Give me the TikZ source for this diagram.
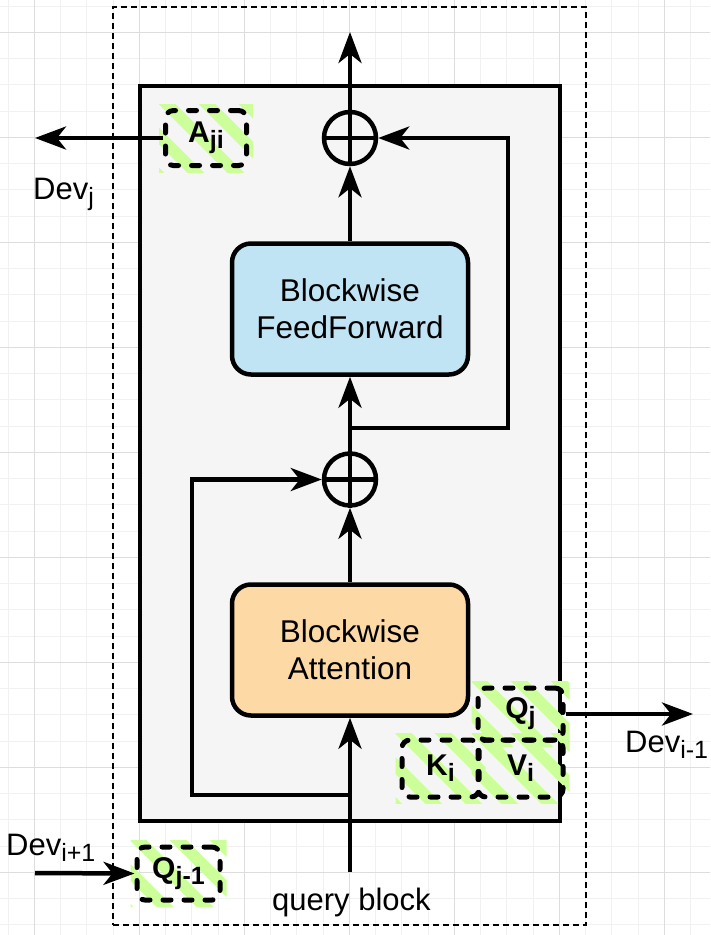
\documentclass[tikz,border=0pt]{standalone}
\usepackage{fontspec}
\setmainfont{Liberation Sans}
\usepackage{xcolor}
\usepackage{tikz}
\usetikzlibrary{arrows.meta,calc,positioning}
\definecolor{gridminor}{RGB}{241,241,241}
\definecolor{gridmajor}{RGB}{221,221,221}
\definecolor{innergray}{RGB}{245,245,245}
\definecolor{ffnblue}{RGB}{193,228,245}
\definecolor{attnorange}{RGB}{253,217,166}
\definecolor{hatchgreen}{RGB}{204,255,153}
\pgfdeclarelayer{grid}
\pgfdeclarelayer{hatch}
\pgfsetlayers{grid,hatch,main}
\newcommand{\dsub}[1]{\raisebox{-6pt}{\fontsize{25}{25}\selectfont #1}}
\tikzset{
	>={Stealth[length=31pt,width=23pt,inset=9pt]},
	% Specifications for style of nodes:
	frame/.style = {rectangle, draw=black, line width=1.8pt,
	dash pattern=on 6pt off 4pt},
	inner/.style = {rectangle, draw=black, fill=innergray, line width=4.5pt},
	blk/.style = {rectangle, rounded corners=19pt,
	minimum width=236pt, minimum height=131pt,
	draw=black, line width=4.5pt, align=center,
	font=\fontsize{31.5}{37}\selectfont},
	ffn/.style = {blk, fill=ffnblue},
	att/.style = {blk, fill=attnorange},
	addop/.style = {circle, draw=black, line width=4.5pt, minimum size=52pt, inner sep=0pt},
	cache/.style = {rectangle, rounded corners=8pt,
	draw=black, line width=5pt, line cap=round, dash pattern=on 8pt off 13pt,
	inner sep=0pt, font=\fontsize{30}{32}\selectfont\bfseries},
	stripe/.style = {hatchgreen, line width=12pt},
	lbl/.style = {inner sep=0pt, font=\fontsize{31}{34}\selectfont},
	link/.style = {line width=4.5pt},
}

\begin{document}
\begin{tikzpicture}[x=1pt, y=-1pt]
	\useasboundingbox (0,0) rectangle (710,935);
	\begin{pgfonlayer}{grid}
		% background grid
		\foreach \gx in {0,...,26}
			\draw[gridminor, line width=1pt] (8.05+26.25*\gx,0) -- ++(0,935);
		\foreach \gy in {0,...,35}
			\draw[gridminor, line width=1pt] (0,6+26.25*\gy) -- ++(710,0);
		\foreach \gx in {0,...,6}
			\draw[gridmajor, line width=1pt] (34.3+105*\gx,0) -- ++(0,935);
		\foreach \gy in {0,...,8}
			\draw[gridmajor, line width=1pt] (0,32.25+105*\gy) -- ++(710,0);
		% device frame and layer
		\node (dev)[frame, minimum width=473pt, minimum height=918pt] at (349.5,466) {};
		\node (layer)[inner, minimum width=420pt, minimum height=735pt] at (350,453.5) {};
	\end{pgfonlayer}
	% draw blocks
	\node (ffn)[ffn] at (350,309) {Blockwise\\FeedForward};
	\node (attn)[att] at (350,650) {Blockwise\\Attention};
	\node (add1)[addop] at (350,138) {};
	\node (add2)[addop] at (350,479.5) {};
	% cached blocks
	\node (aji)[cache, minimum width=81pt, minimum height=55pt] at (206,138) {A\dsub{ji}};
	\node (qj)[cache, minimum width=85pt, minimum height=52pt] at (520.5,714) {Q\dsub{j}};
	\node (ki)[cache, minimum width=77pt, minimum height=57pt] at (440.5,768.5) {K\dsub{i}};
	\node (vi)[cache, minimum width=85pt, minimum height=57pt] at (520.5,768.5) {V\dsub{i}};
	\node (qjm)[cache, minimum width=83pt, minimum height=53pt] at (178.5,873.5) {Q\dsub{j-1}};
	% hatching of cached blocks
	\begin{pgfonlayer}{hatch}
		\foreach \c in {aji,qj,ki,vi,qjm} {
			\begin{scope}
				\clip ($(\c.north west)+(-4,-4)$) rectangle ($(\c.south east)+(4,4)$);
				\foreach \k in {-2,...,2}
					\draw[stripe] ($(\c.north west)+(8+40*\k-40,-40)$) -- ++(140,140);
			\end{scope}
		}
	\end{pgfonlayer}
	% labels
	\node (devj)[lbl, anchor=base west] at (33,199) {Dev\dsub{j}};
	\node (devim)[lbl, anchor=base west] at (625,752) {Dev\dsub{i-1}};
	\node (devip)[lbl, anchor=base west] at (6,855) {Dev\dsub{i+1}};
	\node (query)[lbl, anchor=base west] at (272,910) {query block};
	% connection coordinates
	\coordinate (out) at (350,32);
	\coordinate (qin) at (350,872);
	\coordinate (br1) at (350,428);
	\coordinate (fb) at (508,428);
	\coordinate (br2) at (350,795);
	\coordinate (res) at (192,795);
	\coordinate (toj) at (35,138);
	\coordinate (toim) at (693,714);
	\coordinate (fromip) at (35,873);
	% plus signs
	\draw[link] (add1.north) -- (add1.south);
	\draw[link] (add1.west) -- (add1.east);
	\draw[link] (add2.north) -- (add2.south);
	\draw[link] (add2.west) -- (add2.east);
	% draw arrows between nodes
	\draw[link,->](qin) -- (attn.south);
	\draw[link,->](attn.north) -- (add2.south);
	\draw[link,->](add2.north) -- (ffn.south);
	\draw[link,->](ffn.north) -- (add1.south);
	\draw[link,->](add1.north) -- (out);
	\draw[link,->](br1) -- (fb) |- (add1.east);
	\draw[link,->](br2) -- (res) |- (add2.west);
	\draw[link,->](aji.west) -- (toj);
	\draw[link,->](qj.east) -- (toim);
	\draw[link,->](fromip) -- (qjm.west);
\end{tikzpicture}
\end{document}
